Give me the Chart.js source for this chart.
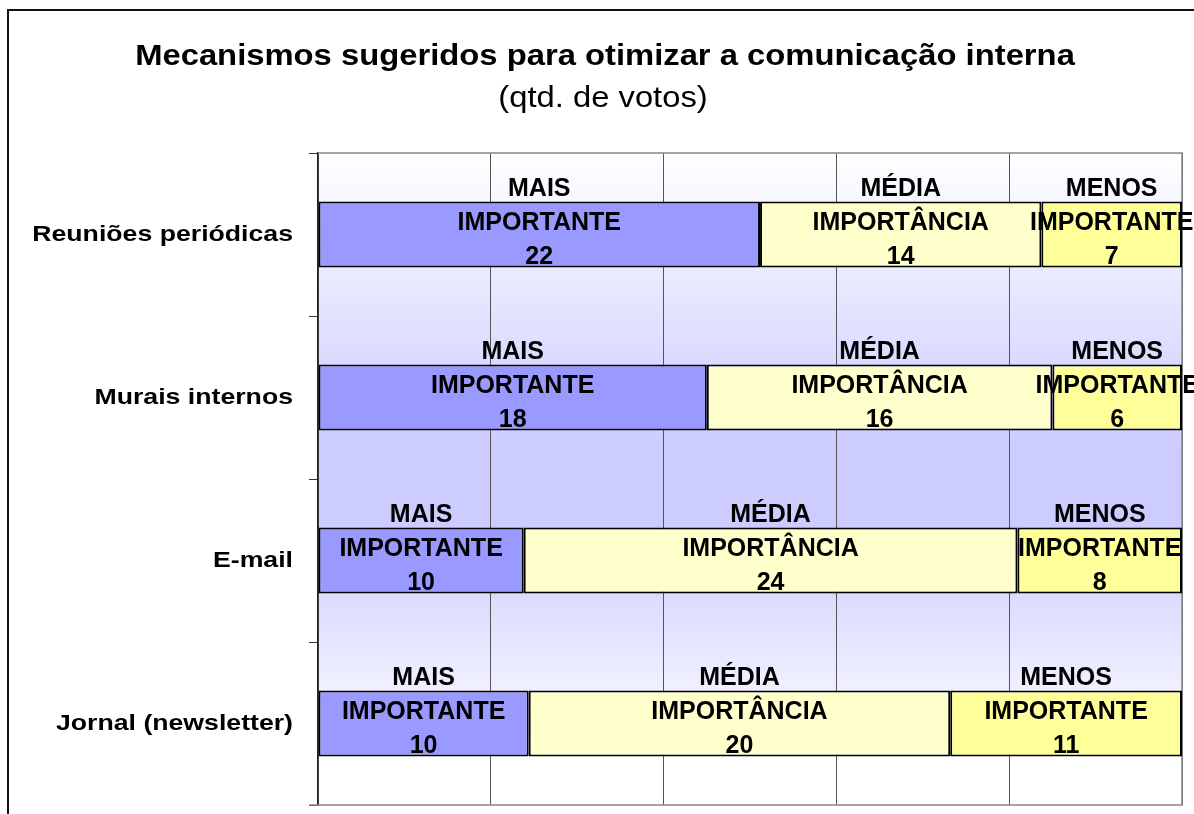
<!DOCTYPE html>
<html>
<head>
<meta charset="utf-8">
<script src="https://cdn.jsdelivr.net/npm/chart.js@4/dist/chart.umd.min.js"></script>
<style>
html,body{margin:0;padding:0;background:#fff;}
canvas{display:block;}
</style>
</head>
<body>
<canvas id="c" width="1194" height="814"></canvas>
<script>
const titleText = 'Mecanismos sugeridos para otimizar a comunicação interna';
const subtitleText = '(qtd. de votos)';
const categories = ['Reuniões periódicas', 'Murais internos', 'E-mail', 'Jornal (newsletter)'];
const seriesLabels = [['MAIS', 'IMPORTANTE'], ['MÉDIA', 'IMPORTÂNCIA'], ['MENOS', 'IMPORTANTE']];
const mais = [22, 18, 10, 10];
const media = [14, 16, 24, 20];
const menos = [7, 6, 8, 11];
const seriesColors = ['#9999ff', '#ffffcc', '#ffff99'];

const counts = [mais, media, menos];
const totals = categories.map((_, i) => mais[i] + media[i] + menos[i]);
const toPct = arr => arr.map((v, i) => v / totals[i] * 100);

function stretchText(ctx, text, x, y, sx, align) {
  ctx.save();
  ctx.translate(x, y);
  ctx.scale(sx, 1);
  ctx.textAlign = align;
  ctx.textBaseline = 'alphabetic';
  ctx.fillText(text, 0, 0);
  ctx.restore();
}

const decor = {
  id: 'decor',
  beforeDraw(chart) {
    const {ctx, chartArea: a} = chart;
    ctx.save();
    ctx.fillStyle = '#ffffff';
    ctx.fillRect(0, 0, chart.width, chart.height);
    const g = ctx.createLinearGradient(0, a.top, 0, a.bottom);
    g.addColorStop(0, '#ffffff');
    g.addColorStop(0.45, '#ccccff');
    g.addColorStop(0.57, '#ccccff');
    g.addColorStop(0.93, '#ffffff');
    g.addColorStop(1, '#ffffff');
    ctx.fillStyle = g;
    ctx.fillRect(a.left, a.top, a.right - a.left, a.bottom - a.top);
    // outer frame
    ctx.strokeStyle = '#111';
    ctx.lineWidth = 2;
    ctx.strokeRect(8, 10, 1400, 1000);
    ctx.restore();
  },
  beforeDatasetsDraw(chart) {
    const {ctx, chartArea: a} = chart;
    ctx.save();
    ctx.strokeStyle = '#888';
    ctx.lineWidth = 1.5;
    ctx.beginPath();
    ctx.moveTo(a.left, a.top); ctx.lineTo(a.right, a.top);
    ctx.lineTo(a.right, a.bottom); ctx.lineTo(a.left - 9, a.bottom);
    ctx.stroke();
    ctx.restore();
  },
  afterDraw(chart) {
    const {ctx} = chart;
    ctx.save();
    ctx.fillStyle = '#000';
    ctx.font = 'bold 29px "Liberation Sans", Arial, sans-serif';
    stretchText(ctx, titleText, 605, 65, 1.13, 'center');
    ctx.font = '29px "Liberation Sans", Arial, sans-serif';
    stretchText(ctx, subtitleText, 603, 107, 1.13, 'center');
    // category labels
    const ys = chart.scales.y;
    ctx.font = 'bold 21.5px "Liberation Sans", Arial, sans-serif';
    categories.forEach((c, i) => {
      stretchText(ctx, c, 293, ys.getPixelForValue(i) + 6, 1.24, 'right');
    });
    // data labels
    ctx.font = 'bold 25px "Liberation Sans", Arial, sans-serif';
    chart.data.datasets.forEach((ds, d) => {
      const meta = chart.getDatasetMeta(d);
      meta.data.forEach((el, i) => {
        const cx = (el.x + el.base) / 2;
        const cy = el.y;
        const lines = [seriesLabels[d][0], seriesLabels[d][1], String(counts[d][i])];
        const offs = [-39, -5, 29];
        lines.forEach((t, k) => stretchText(ctx, t, cx, cy + offs[k], 1, 'center'));
      });
    });
    ctx.restore();
  }
};

new Chart(document.getElementById('c'), {
  type: 'bar',
  data: {
    labels: categories,
    datasets: counts.map((arr, d) => ({
      label: seriesLabels[d].join(' '),
      data: toPct(arr),
      backgroundColor: seriesColors[d],
      borderColor: '#000',
      borderWidth: 2,
      borderSkipped: false,
      barPercentage: 0.405,
      categoryPercentage: 1
    }))
  },
  options: {
    indexAxis: 'y',
    responsive: false,
    animation: false,
    devicePixelRatio: 1,
    layout: {padding: {top: 153, right: 12, bottom: 9, left: 0}},
    plugins: {legend: {display: false}, tooltip: {enabled: false}, title: {display: false}},
    scales: {
      x: {
        stacked: true, min: 0, max: 100,
        ticks: {display: false, stepSize: 20},
        grid: {color: '#555', lineWidth: 1, drawTicks: false},
        border: {display: false},
        afterFit(s) { s.height = 0; }
      },
      y: {
        stacked: true,
        ticks: {display: false},
        grid: {drawOnChartArea: false, drawTicks: true, tickLength: 9, color: '#333', offset: true},
        border: {display: true, color: '#222', width: 1.5},
        afterFit(s) { s.width = 318; }
      }
    }
  },
  plugins: [decor]
});
</script>
</body>
</html>
